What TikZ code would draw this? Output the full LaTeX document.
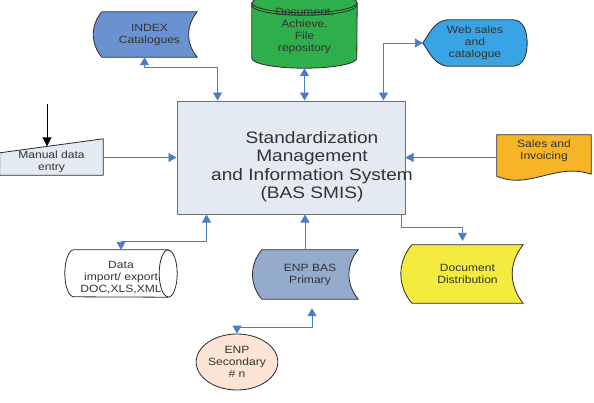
\documentclass[tikz,border=0pt]{standalone}
\usepackage{fontspec}
\setmainfont{Liberation Sans}[FakeStretch=1.15]
\usetikzlibrary{arrows.meta,shapes.geometric}
\pgfdeclarelayer{bg}
\pgfsetlayers{bg,main}
\definecolor{boxgrey}{HTML}{E4EAF3}
\definecolor{boxedge}{HTML}{707070}
\definecolor{edge}{HTML}{2A2A2A}
\definecolor{linkblue}{HTML}{4A7DC4}
\definecolor{indexblue}{HTML}{6B92D0}
\definecolor{docgreen}{HTML}{2FAE4C}
\definecolor{webblue}{HTML}{39A4E3}
\definecolor{salesorange}{HTML}{F5B527}
\definecolor{priblue}{HTML}{95ABCB}
\definecolor{distyellow}{HTML}{F3EC3E}
\definecolor{peach}{HTML}{FBE4D5}
\definecolor{textgrey}{HTML}{333333}
\begin{document}
\begin{tikzpicture}[x=1pt,y=1pt,
    txt/.style={align=center, font=\fontsize{10.5}{12}\selectfont, text=textgrey, inner sep=0pt},
    outline/.style={draw=edge, line width=0.8pt},
    link/.style={draw=linkblue, line width=0.9pt, -{Triangle[length=8pt,width=9pt]}},
    both/.style={link, {Triangle[length=8pt,width=9pt]}-{Triangle[length=8pt,width=9pt]}}]
    \useasboundingbox (0,0) rectangle (594,-402);

    % Nodes
    \node[draw=boxedge, fill=boxgrey, line width=1pt, minimum width=228pt, minimum height=113pt] (smis) at (291,-157.5) {};
    \node[align=center, font=\fontsize{16.6}{18.5}\selectfont, text=textgrey] (title) at ([shift={(21pt,-9pt)}]smis.center) {Standardization\\Management\\and Information System\\(BAS SMIS)};
    \node[txt, minimum width=95pt, minimum height=45pt] (idx) at (149.5,-34.5) {INDEX\\Catalogues};
    \node[txt, minimum width=105pt, minimum height=55pt] (doc) at (304.5,-30.5) {Document,\\Achieve,\\File\\repository};
    \node[txt, minimum width=104pt, minimum height=46pt] (web) at (475,-43) {Web sales\\and\\catalogue};
    \node[txt, minimum width=103pt, minimum height=26pt] (man) at (51.5,-162) {Manual data\\entry};
    \node[txt, minimum width=94pt, minimum height=32pt] (sal) at (544,-151) {Sales and\\Invoicing};
    \node[txt, minimum width=94pt, minimum height=38pt] (dat) at (121,-278) {Data\\import/ export\\DOC,XLS,XML};
    \node[txt, minimum width=96pt, minimum height=49pt] (pri) at (310,-274.5) {ENP BAS\\Primary};
    \node[txt, minimum width=111pt, minimum height=58pt] (dis) at (467.5,-274) {Document\\Distribution};
    \node[txt, ellipse, outline, fill=peach, minimum width=70pt, minimum height=56pt] (sec) at (237,-362) {ENP\\Secondary\\\# n};
    \coordinate (pen) at (47,-104);

    % Shapes
    \begin{pgfonlayer}{bg}
    \path[outline, fill=indexblue] (idx.north west) to[bend right=40] (idx.south west) -- (idx.south east) to[bend left=40] (idx.north east) -- cycle;
    \path[outline, fill=docgreen] (doc.north west) -- (doc.south west) arc[start angle=180, end angle=360, x radius=52.5pt, y radius=10pt] -- (doc.north east) arc[start angle=0, end angle=180, x radius=52.5pt, y radius=10pt] -- cycle;
    \draw[outline] (doc.north west) arc[start angle=180, end angle=360, x radius=52.5pt, y radius=10pt];
    \draw[outline] ([yshift=-2.5pt]doc.north west) arc[start angle=180, end angle=360, x radius=52.5pt, y radius=10pt];
    \path[outline, fill=webblue] (web.west) to[out=55,in=190] ([xshift=24pt]web.north west) -- ([xshift=-14pt]web.north east) to[out=0,in=90] (web.east) to[out=-90,in=0] ([xshift=-14pt]web.south east) -- ([xshift=24pt]web.south west) to[out=170,in=-55] (web.west) -- cycle;
    \path[outline, fill=boxgrey] (man.south west) -- (man.south east) -- ([yshift=10pt]man.north east) -- ([yshift=-4pt]man.north west) -- cycle;
    \path[outline, fill=salesorange] (sal.north west) -- (sal.north east) -- ([yshift=-7pt]sal.south east) .. controls ([shift={(-36pt,5pt)}]sal.south east) and ([shift={(33pt,-23pt)}]sal.south west) .. ([yshift=-9pt]sal.south west) -- cycle;
    \path[outline, fill=white] ([yshift=9pt]dat.north east) -- ([yshift=9pt]dat.north west) arc[start angle=90, end angle=270, x radius=9pt, y radius=23.5pt] -- (dat.south east) arc[start angle=-90, end angle=90, x radius=9pt, y radius=23.5pt] -- cycle;
    \draw[outline] ([yshift=9pt]dat.north east) arc[start angle=90, end angle=270, x radius=9pt, y radius=23.5pt];
    \path[outline, fill=priblue] (pri.north west) to[bend right=40] (pri.south west) -- (pri.south east) to[bend left=40] (pri.north east) -- cycle;
    \path[outline, fill=distyellow] (dis.north west) to[bend right=40] (dis.south west) -- (dis.south east) to[bend left=40] (dis.north east) -- cycle;
    \end{pgfonlayer}

    % Connectors
    \draw[both] ([xshift=41pt]smis.north west) -- ++(0,33) -| ([xshift=-5pt]idx.south);
    \draw[both, shorten >=10pt] (smis.north -| doc.south) -- (doc.south);
    \draw[both] ([xshift=-22pt]smis.north east) |- (web.west);
    \draw[line width=0.9pt, -{Triangle[length=9pt,width=9pt]}] (pen) -- ([shift={(-4.5pt,2.5pt)}]man.north);
    \draw[link] (man.east |- smis.west) -- (smis.west);
    \draw[link] (sal.west |- smis.east) -- (smis.east);
    \draw[both] ([xshift=30pt]smis.south west) -- ++(0,-27) -| ([yshift=9pt]dat.north);
    \draw[link] ([xshift=-5pt]pri.north) -- ([xshift=14pt]smis.south);
    \draw[link, shorten >=4pt] ([xshift=-4pt]smis.south east) -- ++(0,-13) -| ([xshift=-5pt]dis.north);
    \draw[both, shorten >=9pt] (sec.north) -- ++(0,6) -| ([xshift=2pt]pri.south);
\end{tikzpicture}
\end{document}
